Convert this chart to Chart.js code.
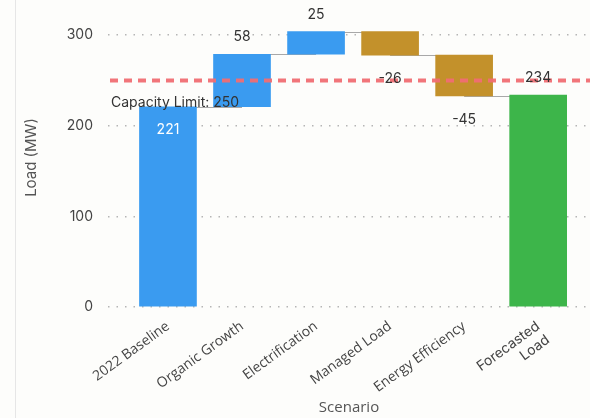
<!DOCTYPE html>
<html>
<head>
<meta charset="utf-8">
<script src="https://cdn.jsdelivr.net/npm/chart.js@4.4.0/dist/chart.umd.min.js"></script>
<style>
  html, body { margin: 0; padding: 0; background: #fdfdfb; }
  #wrap { position: relative; width: 590px; height: 418px; }
  #edge { position: absolute; left: 15px; top: 0; bottom: 0; border-left: 1px solid #e6e6e6; }
</style>
</head>
<body>
<div id="wrap">
  <div id="edge"></div>
  <canvas id="mycanvas" width="590" height="418"></canvas>
</div>
<script>
// data
var categories = ['2022 Baseline', 'Organic Growth', 'Electrification', 'Managed Load', 'Energy Efficiency', ['Forecasted', 'Load']];
var deltas = [221, 58, 25, -26, -45, 234];
var kinds = ['total', 'up', 'up', 'down', 'down', 'final'];
var capacityLimit = 250;
var yTicks = [0, 100, 200, 300];

var colors = { total: '#3a9bf0', up: '#3a9bf0', down: '#c3912b', final: '#3db54a' };

// build floating bars from the deltas
var bars = [];
var running = 0;
for (var i in deltas) {
  var start, end;
  if (kinds[i] == 'total' || kinds[i] == 'final') {
    start = 0;
    end = deltas[i];
    running = deltas[i];
  } else {
    start = running;
    end = running + deltas[i];
    running = end;
  }
  bars.push({ x: Number(i), y: [start, end] });
}

var waterfallExtras = {
  id: 'waterfallExtras',
  beforeDatasetsDraw: function(chart) {
    var ctx = chart.ctx, xs = chart.scales.x, ys = chart.scales.y;
    ctx.save();
    ctx.strokeStyle = '#a8a8a8';
    ctx.lineWidth = 1;
    for (var i = 0; i < bars.length - 1; i++) {
      var level = bars[i].y[1];
      var yy = Math.round(ys.getPixelForValue(level)) + 0.5;
      ctx.beginPath();
      ctx.moveTo(xs.getPixelForValue(i), yy);
      ctx.lineTo(xs.getPixelForValue(i + 1), yy);
      ctx.stroke();
    }
    ctx.restore();
  },
  afterDatasetsDraw: function(chart) {
    var ctx = chart.ctx, xs = chart.scales.x, ys = chart.scales.y, area = chart.chartArea;
    ctx.save();
    // capacity line
    var cy = ys.getPixelForValue(capacityLimit);
    ctx.strokeStyle = 'rgba(240, 110, 115, 0.95)';
    ctx.lineWidth = 4;
    ctx.setLineDash([8, 6]);
    ctx.beginPath();
    ctx.moveTo(area.left + 2, cy);
    ctx.lineTo(area.right, cy);
    ctx.stroke();
    ctx.setLineDash([]);
    ctx.font = '14px Inter';
    ctx.fillStyle = '#333';
    ctx.textAlign = 'left';
    ctx.textBaseline = 'middle';
    ctx.fillText('Capacity Limit: ' + capacityLimit, area.left + 3, cy + 22);

    // value labels
    ctx.textAlign = 'center';
    for (var i = 0; i < bars.length; i++) {
      var x = xs.getPixelForValue(i);
      var lo = Math.min(bars[i].y[0], bars[i].y[1]);
      var hi = Math.max(bars[i].y[0], bars[i].y[1]);
      var txt = String(deltas[i]);
      if (kinds[i] == 'total') {
        ctx.fillStyle = '#ffffff';
        ctx.fillText(txt, x, ys.getPixelForValue(hi) + 23);
      } else if (kinds[i] == 'down') {
        ctx.fillStyle = '#333';
        ctx.fillText(txt, x, ys.getPixelForValue(lo) + 24);
      } else {
        ctx.fillStyle = '#333';
        ctx.fillText(txt, x, ys.getPixelForValue(hi) - 17);
      }
    }
    ctx.restore();
  }
};

var ctx = document.getElementById('mycanvas');

var barGraph = new Chart(ctx, {
  type: 'bar',
  data: {
    datasets: [{
      label: 'Load',
      data: bars,
      backgroundColor: kinds.map(function(k) { return colors[k]; }),
      borderWidth: 0,
      barThickness: 57
    }]
  },
  plugins: [waterfallExtras],
  options: {
    responsive: false,
    animation: false,
    layout: { padding: { top: 8, right: 0, bottom: 0, left: 0 } },
    plugins: { legend: { display: false }, tooltip: { enabled: false } },
    scales: {
      x: {
        type: 'linear',
        offset: false,
        min: -0.81,
        max: 5.70,
        grid: { display: false },
        border: { display: false },
        afterBuildTicks: function(axis) {
          axis.ticks = categories.map(function(c, i) { return { value: i }; });
        },
        afterFit: function(axis) {
          axis.height = 111;
          axis.paddingLeft = 0;
          axis.paddingRight = 0;
        },
        ticks: {
          autoSkip: false,
          minRotation: 36,
          maxRotation: 36,
          padding: 3,
          color: '#444',
          font: function(c) {
            if (c.index == 5) return { family: 'Inter', size: 14 };
            return { family: 'Open Sans', size: 14 };
          },
          callback: function(v) { return categories[v]; }
        },
        title: {
          display: true,
          text: 'Scenario',
          color: '#555',
          font: { family: 'Open Sans', size: 15 },
          padding: { top: 0, bottom: 1 }
        }
      },
      y: {
        min: 0,
        max: 330,
        afterBuildTicks: function(axis) {
          axis.ticks = yTicks.map(function(v) { return { value: v }; });
        },
        afterFit: function(axis) {
          axis.width = 108;
          axis.paddingTop = 0;
          axis.paddingBottom = 0;
        },
        grid: {
          drawTicks: false,
          color: '#b5b5b5',
          lineWidth: 1.5
        },
        border: { display: false, dash: [1.5, 7] },
        ticks: {
          padding: 15,
          color: '#444',
          font: { family: 'Inter', size: 14 }
        },
        title: {
          display: true,
          text: 'Load (MW)',
          color: '#555',
          font: { family: 'Inter', size: 15 },
          padding: { top: 22, bottom: 0 }
        }
      }
    }
  }
});
</script>
</body>
</html>
